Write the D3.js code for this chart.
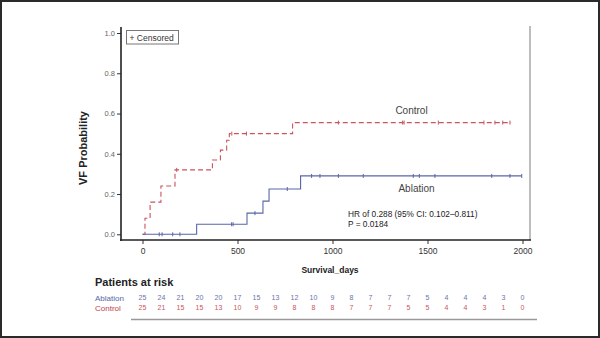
<!DOCTYPE html>
<html><head><meta charset="utf-8">
<script src="https://cdn.jsdelivr.net/npm/d3@7"></script>
<style>
html,body{margin:0;padding:0;background:#fff;}
svg{display:block;font-family:"Liberation Sans",Arial,sans-serif;}
</style></head>
<body><svg id="c" width="600" height="338"></svg>
<script>
// ---- data ----
const controlSteps = [[0,0],[13,0.08],[40,0.16],[97,0.24],[171,0.32],[368,0.369],[410,0.418],[443,0.467],[457,0.50],[790,0.555]];
const controlEnd = 1940;
const controlCensors = [[180,0.32],[470,0.50],[547,0.50],[1031,0.555],[1369,0.555],[1377,0.555],[1557,0.555],[1797,0.555],[1855,0.555],[1896,0.555],[1934,0.555]];
const ablationSteps = [[0,0],[285,0.05],[550,0.105],[634,0.165],[666,0.225],[832,0.29]];
const ablationEnd = 1996;
const ablationCensors = [[88,0],[103,0],[159,0],[197,0],[469,0.05],[477,0.05],[592,0.105],[762,0.225],[890,0.29],[934,0.29],[1031,0.29],[1162,0.29],[1425,0.29],[1457,0.29],[1539,0.29],[1838,0.29],[1934,0.29],[1996,0.29]];
const xTicks = [0,500,1000,1500,2000];
const yTicks = [0,0.2,0.4,0.6,0.8,1.0];
const riskDays = d3.range(0,2001,100);
const riskAblation = [25,24,21,20,20,17,15,13,12,10,9,8,7,7,7,5,4,4,4,3,0];
const riskControl = [25,21,15,15,13,10,9,9,8,8,8,7,7,7,5,5,4,4,3,1,0];
const hrText = ["HR of 0.288 (95% CI: 0.102\u20130.811)","P = 0.0184"];

const cRed = "#c9545e", cBlue = "#5866a6";
const svg = d3.select("#c");
svg.append("rect").attr("x",1).attr("y",1).attr("width",598).attr("height",336).attr("fill","#fff").attr("stroke","#2a2a2a").attr("stroke-width",2);

const x = d3.scaleLinear().domain([0,2000]).range([142.5,522.5]);
const y = d3.scaleLinear().domain([0,1]).range([234.3,33]);

// right frame
svg.append("line").attr("x1",530).attr("x2",530).attr("y1",26).attr("y2",240).attr("stroke","#bdbdbd").attr("stroke-width",2);

// axes
const yAx = svg.append("g").attr("transform","translate(121,0)")
  .call(d3.axisLeft(y).tickValues(yTicks).tickFormat(d3.format(".1f")).tickSize(4).tickSizeOuter(0));
yAx.select(".domain").remove();
yAx.append("line").attr("x1",0).attr("x2",0).attr("y1",27).attr("y2",241).attr("stroke","#222").attr("stroke-width",1.6);
yAx.selectAll(".tick line").attr("stroke","#333");
yAx.selectAll(".tick text").attr("fill","#666").attr("font-size",7.5).attr("x",-6);

const xAx = svg.append("g").attr("transform","translate(0,240)")
  .call(d3.axisBottom(x).tickValues(xTicks).tickFormat(d3.format("d")).tickSize(4).tickSizeOuter(0));
xAx.select(".domain").remove();
xAx.append("line").attr("x1",120).attr("x2",531).attr("y1",0).attr("y2",0).attr("stroke","#222").attr("stroke-width",1.6);
xAx.selectAll(".tick line").attr("stroke","#333");
xAx.selectAll(".tick text").attr("fill","#333").attr("font-size",8.5).attr("y",8);

// axis labels
svg.append("text").attr("transform","translate(87,148) rotate(-90)").attr("text-anchor","middle")
  .attr("font-weight","bold").attr("font-size",11).attr("fill","#222").text("VF Probability");
svg.append("text").attr("x",330).attr("y",273).attr("text-anchor","middle")
  .attr("font-weight","bold").attr("font-size",8.5).attr("fill","#222").text("Survival_days");

// curves
function stepPts(steps,end){
  const pts=[];
  steps.forEach((s,i)=>{ if(i>0) pts.push([s[0],steps[i-1][1]]); pts.push(s); });
  pts.push([end,steps[steps.length-1][1]]);
  return pts;
}
const line = d3.line().x(d=>x(d[0])).y(d=>y(d[1]));
svg.append("path").attr("d",line(stepPts(controlSteps,controlEnd))).attr("fill","none")
  .attr("stroke",cRed).attr("stroke-width",1.1).attr("stroke-dasharray","5,3");
svg.append("path").attr("d",line(stepPts(ablationSteps,ablationEnd))).attr("fill","none")
  .attr("stroke",cBlue).attr("stroke-width",1.1);
function censors(data,col){
  svg.append("g").selectAll("line").data(data).join("line")
    .attr("x1",d=>x(d[0])).attr("x2",d=>x(d[0])).attr("y1",d=>y(d[1])-2).attr("y2",d=>y(d[1])+2)
    .attr("stroke",col).attr("stroke-width",1);
}
censors(controlCensors,cRed);
censors(ablationCensors,cBlue);

// legend
svg.append("rect").attr("x",126.5).attr("y",30.5).attr("width",52).attr("height",13.5).attr("fill","#fff").attr("stroke","#777").attr("stroke-width",1);
svg.append("text").attr("x",129.5).attr("y",40.5).attr("font-size",8.5).attr("fill","#333").text("+ Censored");

// curve labels
svg.append("text").attr("x",411.5).attr("y",113.5).attr("text-anchor","middle").attr("font-size",10).attr("fill","#444").text("Control");
svg.append("text").attr("x",416.5).attr("y",191.5).attr("text-anchor","middle").attr("font-size",10).attr("fill","#444").text("Ablation");
svg.append("g").selectAll("text").data(hrText).join("text")
  .attr("x",348).attr("y",(d,i)=>216.5+i*10.5).attr("font-size",8.3).attr("fill","#222").text(d=>d);

// patients at risk
svg.append("text").attr("x",95).attr("y",286).attr("font-weight","bold").attr("font-size",11).attr("fill","#222").text("Patients at risk");
svg.append("text").attr("x",95).attr("y",300.5).attr("font-size",8).attr("fill",cBlue).text("Ablation");
svg.append("text").attr("x",95).attr("y",310.5).attr("font-size",8).attr("fill","#c0404c").text("Control");
svg.append("g").selectAll("text").data(riskAblation).join("text")
  .attr("x",(d,i)=>x(riskDays[i])).attr("y",300).attr("text-anchor","middle").attr("font-size",7).attr("fill","#6a74a8").text(d=>d);
svg.append("g").selectAll("text").data(riskControl).join("text")
  .attr("x",(d,i)=>x(riskDays[i])).attr("y",310).attr("text-anchor","middle").attr("font-size",7).attr("fill","#c9545e").text(d=>d);
svg.append("line").attr("x1",131).attr("x2",537).attr("y1",319.5).attr("y2",319.5).attr("stroke","#999").attr("stroke-width",1.5);
</script></body></html>
